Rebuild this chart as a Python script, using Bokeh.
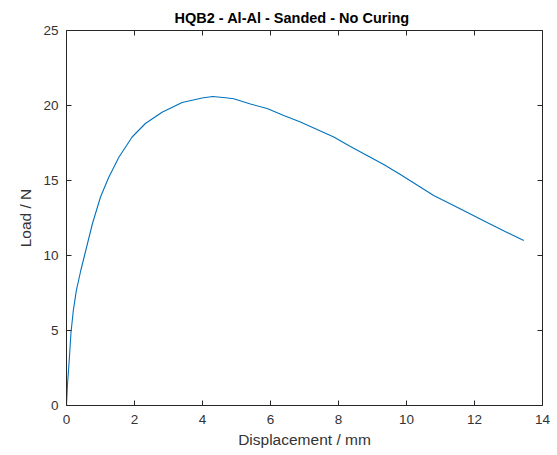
from bokeh.plotting import figure
from bokeh.models import LinearAxis, Range1d, FixedTicker
from bokeh.embed import file_html
from bokeh.resources import INLINE

displacement = [0.0, 0.03, 0.08, 0.13, 0.2, 0.29, 0.42, 0.53, 0.76, 1.0, 1.24, 1.54,
                1.93, 2.32, 2.81, 3.4, 3.99, 4.3, 4.68, 4.92, 5.41, 5.9, 6.39, 6.88,
                7.37, 7.86, 8.35, 8.84, 9.33, 9.82, 10.8, 11.59, 12.37, 12.9, 13.45]
load = [0.0, 1.45, 3.0, 4.8, 6.33, 7.67, 9.0, 10.0, 12.1, 13.9, 15.2, 16.55,
        17.9, 18.8, 19.55, 20.2, 20.5, 20.6, 20.52, 20.45, 20.1, 19.8, 19.33, 18.9,
        18.4, 17.9, 17.27, 16.67, 16.07, 15.4, 14.0, 13.1, 12.2, 11.6, 11.0]

x_ticks = [0, 2, 4, 6, 8, 10, 12, 14]
y_ticks = [0, 5, 10, 15, 20, 25]

FONT = "Liberation Sans"
AX = "#262626"

p = figure(width=557, height=455, output_backend="svg", toolbar_location=None,
           x_range=Range1d(0, 14), y_range=Range1d(0, 25),
           title="HQB2 - Al-Al - Sanded - No Curing",
           min_border_left=66, min_border_right=15, min_border_top=30, min_border_bottom=50)

p.title.align = "left"
p.title.vertical_align = "top"
p.title.text_font = FONT
p.title.text_font_size = "14.5px"
p.title.text_font_style = "bold"
p.title.text_color = "#000000"
p.title.offset = 108
p.title.standoff = 6

p.grid.visible = False
p.outline_line_color = None
p.background_fill_color = "white"
p.border_fill_color = "white"

p.line(displacement, load, line_color="#0072BD", line_width=1.1)

def style(ax, ticks, show_labels=True):
    ax.ticker = FixedTicker(ticks=ticks)
    ax.major_tick_in = 5
    ax.major_tick_out = 0
    ax.minor_tick_in = 0
    ax.minor_tick_out = 0
    ax.axis_line_color = AX
    ax.axis_line_width = 1
    ax.major_tick_line_color = AX
    ax.major_label_text_font = FONT
    ax.major_label_text_font_size = "13.5px"
    ax.major_label_text_color = "#333333"
    ax.axis_label_text_font = FONT
    ax.axis_label_text_font_size = "15.5px"
    ax.axis_label_text_font_style = "normal"
    ax.axis_label_text_color = "#333333"
    if not show_labels:
        ax.major_label_text_font_size = "0px"
        ax.major_label_text_color = None

xa = p.xaxis[0]
style(xa, x_ticks)
xa.axis_label = "Displacement / mm"
xa.major_label_standoff = 9
xa.axis_label_standoff = 4

ya = p.yaxis[0]
style(ya, y_ticks)
ya.axis_label = "Load / N"
ya.major_label_standoff = 8
ya.axis_label_standoff = 6

top = LinearAxis()
style(top, x_ticks, show_labels=False)
p.add_layout(top, "above")
right = LinearAxis()
style(right, y_ticks, show_labels=False)
p.add_layout(right, "right")

open("out.html", "w").write(file_html(p, INLINE))
